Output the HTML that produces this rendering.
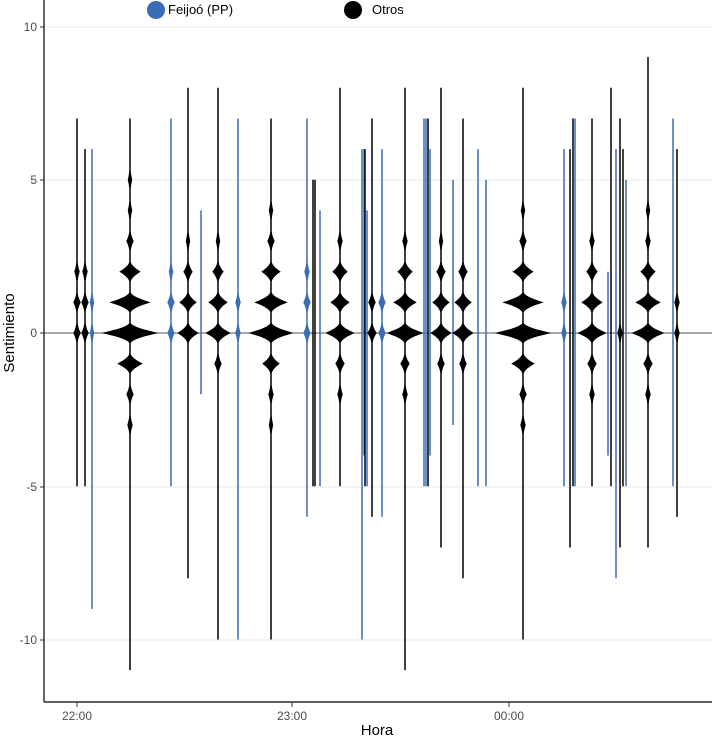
<!DOCTYPE html>
<html><head><meta charset="utf-8"><style>
body{margin:0;background:#fff;}
svg text{font-family:"Liberation Sans",sans-serif;}
</style></head><body>
<svg id="s" width="712" height="738" xmlns="http://www.w3.org/2000/svg">
<rect width="712" height="738" fill="#fff"/>
<g stroke="#ebebeb" stroke-width="1">
<line x1="44" x2="712" y1="27" y2="27"/><line x1="44" x2="712" y1="180" y2="180"/>
<line x1="44" x2="712" y1="487" y2="487"/><line x1="44" x2="712" y1="640" y2="640"/>
</g>
<line x1="44" x2="712" y1="333" y2="333" stroke="#555" stroke-width="1"/>
<g id="v"></g>
<line x1="44" x2="44" y1="0" y2="702" stroke="#000" stroke-width="1.2"/>
<line x1="44" x2="712" y1="702" y2="702" stroke="#000" stroke-width="1.2"/>
<g stroke="#333"><line x1="40" x2="44" y1="27" y2="27"/><line x1="40" x2="44" y1="180" y2="180"/><line x1="40" x2="44" y1="333" y2="333"/><line x1="40" x2="44" y1="487" y2="487"/><line x1="40" x2="44" y1="640" y2="640"/>
<line x1="77" x2="77" y1="702" y2="707"/><line x1="292" x2="292" y1="702" y2="707"/><line x1="509" x2="509" y1="702" y2="707"/></g>
<g font-size="12" fill="#4d4d4d" text-anchor="end">
<text x="37" y="31">10</text><text x="37" y="184">5</text><text x="37" y="337">0</text><text x="37" y="491">-5</text><text x="37" y="644">-10</text></g>
<g font-size="12" fill="#4d4d4d" text-anchor="middle">
<text x="77" y="720">22:00</text><text x="292" y="720">23:00</text><text x="509" y="720">00:00</text></g>
<text x="377" y="735" font-size="15" text-anchor="middle">Hora</text>
<text transform="translate(14,333) rotate(-90)" font-size="15" text-anchor="middle">Sentimiento</text>
<circle cx="156" cy="10" r="9" fill="#3a6db5"/><text x="168" y="14" font-size="13">Feijoó (PP)</text>
<circle cx="353" cy="10" r="9" fill="#000"/><text x="372" y="14" font-size="13">Otros</text>
</svg>
<script>
var B="#000",L="#3a6db5";
var V=[
[77,B,7,-5,{0:3,1:3,2:2}],[85,B,6,-5,{0:3,1:3,2:2}],[92,L,6,-9,{0:1.5,1:1.5}],
[130,B,7,-11,{0:28,1:20,2:10,3:3,4:1.5,5:1.5,"-1":12,"-2":3,"-3":2}],
[171,L,7,-5,{0:3,1:3,2:1.5}],[188,B,8,-8,{0:10,1:8,2:4,3:1.5}],[201,L,4,-2,{}],
[218,B,8,-10,{0:12,1:9,2:5,3:1.5,"-1":3}],[238,L,7,-10,{0:2,1:2}],
[271,B,7,-10,{0:22,1:16,2:9,3:3,4:1.5,"-1":8,"-2":2,"-3":1.5}],
[307,L,7,-6,{0:3,1:3,2:2}],[313,B,5,-5,{}],[315,B,5,-5,{}],[320,L,4,-5,{}],
[340,B,8,-5,{0:14,1:9,2:7,3:2,"-1":4,"-2":2}],
[362,L,6,-10,{}],[364,L,6,-4,{}],[365,B,6,-5,{}],[367,L,4,-5,{}],
[372,B,7,-6,{0:4,1:3}],[382,L,6,-6,{0:3,1:3}],
[405,B,8,-11,{0:18,1:11,2:7,3:2,"-1":4,"-2":2}],
[424,L,7,-5,{}],[426,L,7,-5,{}],[428,B,7,-5,{}],[430,L,6,-4,{}],
[441,B,8,-7,{0:10,1:8,2:4,3:1.5,"-1":3}],[453,L,5,-3,{}],
[463,B,7,-8,{0:10,1:8,2:4,"-1":3}],[478,L,6,-5,{}],[486,L,5,-5,{}],
[523,B,8,-10,{0:28,1:20,2:10,3:3,4:1.5,"-1":11,"-2":3,"-3":2}],
[564,L,6,-5,{0:2,1:2}],[570,B,6,-7,{}],[573,B,7,-5,{}],[575,L,7,-5,{}],
[592,B,7,-5,{0:14,1:10,2:5,3:2,"-1":4,"-2":2}],
[608,L,2,-4,{}],[611,B,8,-5,{}],[616,L,6,-8,{}],[620,B,7,-7,{0:2}],[623,B,6,-5,{}],[626,L,5,-5,{}],
[648,B,9,-7,{0:16,1:12,2:7,3:2,4:1.5,"-1":4,"-2":2}],
[673,L,7,-5,{}],[677,B,6,-6,{0:2,1:2}]];
function Y(v){return 333-30.65*v;}
var g=document.getElementById("v"),h="";
V.forEach(function(a){
 var x=a[0],c=a[1],t=a[2],b=a[3],w=a[4],R=[],Lf=[];
 for(var v=t;v>=b-1e-9;v-=0.02){
  var hw=0.75;
  for(var k in w){var d=Math.abs(v-(+k));var f=Math.max(0,1-d/0.33);hw=Math.max(hw,0.75+w[k]*Math.pow(f,1.7));}
  R.push((x+hw).toFixed(2)+","+Y(v).toFixed(2));Lf.unshift((x-hw).toFixed(2)+","+Y(v).toFixed(2));
 }
 h+='<polygon fill="'+c+'" points="'+R.concat(Lf).join(" ")+'"/>';
});
g.innerHTML=h;
</script>
</body></html>
